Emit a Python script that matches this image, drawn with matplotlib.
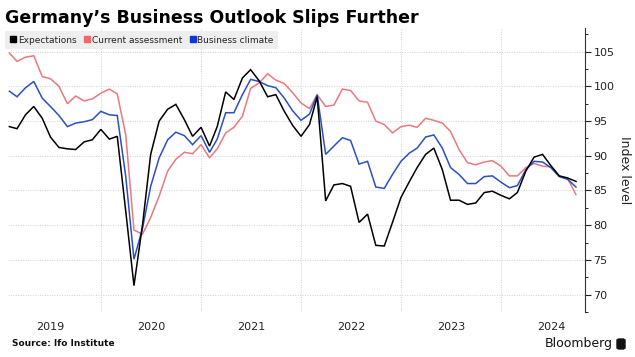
import matplotlib
matplotlib.use("Agg")
import matplotlib.pyplot as plt
import matplotlib.dates as mdates
from matplotlib.ticker import MultipleLocator
from matplotlib.patches import FancyBboxPatch
import pandas as pd

# monthly ifo readings, Jan 2019 - Sep 2024
months = pd.date_range("2019-01-31", periods=69, freq="ME")

expectations = [94.2, 93.9, 95.9, 97.1, 95.4, 92.7, 91.2, 91.0, 90.9, 92.0, 92.3, 93.8,
                92.4, 92.8, 82.0, 71.3, 80.0, 90.2, 95.0, 96.7, 97.4, 95.2, 92.8, 94.1,
                91.4, 94.2, 99.2, 98.1, 101.2, 102.4, 100.8, 98.5, 98.8, 96.4, 94.4, 92.8,
                94.5, 98.5, 83.5, 85.8, 86.0, 85.6, 80.4, 81.6, 77.1, 77.0, 80.4, 84.0,
                86.3, 88.3, 90.2, 91.1, 88.0, 83.6, 83.6, 83.0, 83.2, 84.7, 84.9, 84.3,
                83.8, 84.7, 87.8, 89.8, 90.2, 88.6, 87.1, 86.8, 86.3]

current = [104.8, 103.6, 104.2, 104.4, 101.4, 101.1, 100.0, 97.5, 98.6, 97.9, 98.2, 99.0,
           99.6, 98.9, 93.0, 79.3, 78.7, 81.1, 84.2, 87.8, 89.5, 90.5, 90.3, 91.6,
           89.7, 91.0, 93.3, 94.1, 95.7, 99.7, 100.5, 101.8, 100.9, 100.4, 99.1, 97.6,
           96.8, 98.8, 97.1, 97.3, 99.6, 99.4, 97.9, 97.7, 95.0, 94.5, 93.3, 94.2,
           94.4, 94.1, 95.4, 95.1, 94.7, 93.5, 90.9, 89.0, 88.7, 89.1, 89.3, 88.5,
           87.1, 87.1, 88.3, 88.9, 88.5, 88.4, 87.1, 86.7, 84.4]

climate = [99.3, 98.5, 99.8, 100.7, 98.3, 97.1, 95.8, 94.2, 94.7, 94.9, 95.2, 96.4,
           95.9, 95.8, 87.0, 75.1, 79.5, 85.6, 89.7, 92.3, 93.4, 92.9, 91.6, 92.9,
           90.5, 92.4, 96.2, 96.2, 98.8, 101.0, 100.7, 100.1, 99.8, 98.3, 96.5, 95.1,
           96.0, 98.8, 90.2, 91.4, 92.6, 92.2, 88.8, 89.2, 85.5, 85.3, 87.3, 89.2,
           90.4, 91.1, 92.7, 93.0, 91.1, 88.3, 87.3, 86.0, 86.0, 87.0, 87.1, 86.2,
           85.4, 85.7, 88.0, 89.2, 89.1, 88.3, 87.0, 86.6, 85.5]

series_names = ["Expectations", "Current assessment", "Business climate"]
line_colors = ["#000000", "#e9797d", "#2b4fc4"]
key_colors = ["#000000", "#f0686e", "#1236d0"]

fig = plt.figure(figsize=(6.35, 3.57), dpi=100)
ax = fig.add_axes([8 / 635, 1 - 312 / 357, 577 / 635, 284 / 357])

for vals, c in zip([current, climate, expectations], [line_colors[1], line_colors[2], line_colors[0]]):
    ax.plot(months, vals, color=c, lw=1.1, solid_joinstyle="miter")

ax.set_xlim(pd.Timestamp("2019-01-26"), pd.Timestamp("2024-11-02"))
ax.set_ylim(67.5, 108.4)

# year gridlines at Jan 1, labels centred mid-year
ax.xaxis.set_major_locator(mdates.YearLocator())
ax.xaxis.set_minor_locator(mdates.MonthLocator(bymonth=7, bymonthday=1))
ax.xaxis.set_major_formatter(plt.NullFormatter())
ax.xaxis.set_minor_formatter(mdates.DateFormatter("%Y"))
ax.tick_params(axis="x", which="both", length=0, labelsize=8, pad=7, colors="#222222")
ax.grid(axis="x", which="major", color="#d0d0d0", lw=0.7, ls=(0, (1, 1.5)))

ax.yaxis.tick_right()
ax.yaxis.set_label_position("right")
ax.yaxis.set_major_locator(MultipleLocator(5))
ax.yaxis.set_minor_locator(MultipleLocator(2.5))
ax.set_yticks(range(70, 106, 5))
ax.tick_params(axis="y", which="major", length=4, labelsize=8, colors="#222222", pad=2)
ax.tick_params(axis="y", which="minor", length=2)
ax.grid(axis="y", which="major", color="#d0d0d0", lw=0.7, ls=(0, (1, 1.5)))
ax.set_ylabel("Index level", rotation=270, labelpad=12, fontsize=9, color="#222222")

for s in ["left", "top", "bottom"]:
    ax.spines[s].set_visible(False)
ax.spines["right"].set_color("#333333")
ax.spines["right"].set_linewidth(0.8)

handles = [plt.Line2D([], [], ls="none", marker="s", markersize=4.5, color=c) for c in key_colors]
leg = fig.legend(handles, series_names, loc="upper left", bbox_to_anchor=(5 / 635, 1 - 31 / 357),
                 ncol=3, fontsize=6.5, frameon=True, fancybox=False, facecolor="#eeeeee",
                 edgecolor="none", framealpha=1, borderaxespad=0, handletextpad=0.1,
                 columnspacing=0.8, handlelength=0.8, borderpad=0.5)
for t in leg.get_texts():
    t.set_color("#222222")

fig.text(5 / 635, 1 - 18 / 357, "Germany\u2019s Business Outlook Slips Further", fontsize=12.5,
         fontweight="bold", va="center", ha="left")
fig.text(12 / 635, 1 - 344 / 357, "Source: Ifo Institute", fontsize=6.5, fontweight="bold",
         va="center", ha="left", color="#111111")
fig.text(613 / 635, 1 - 344 / 357, "Bloomberg", fontsize=9, va="center", ha="right", color="#111111")
fig.patches.append(FancyBboxPatch((617 / 635, 1 - 349 / 357), 8 / 635, 10 / 357,
                                  boxstyle="round,pad=0,rounding_size=0.004",
                                  transform=fig.transFigure, color="#111111"))

fig.savefig("out.png", dpi=100)
